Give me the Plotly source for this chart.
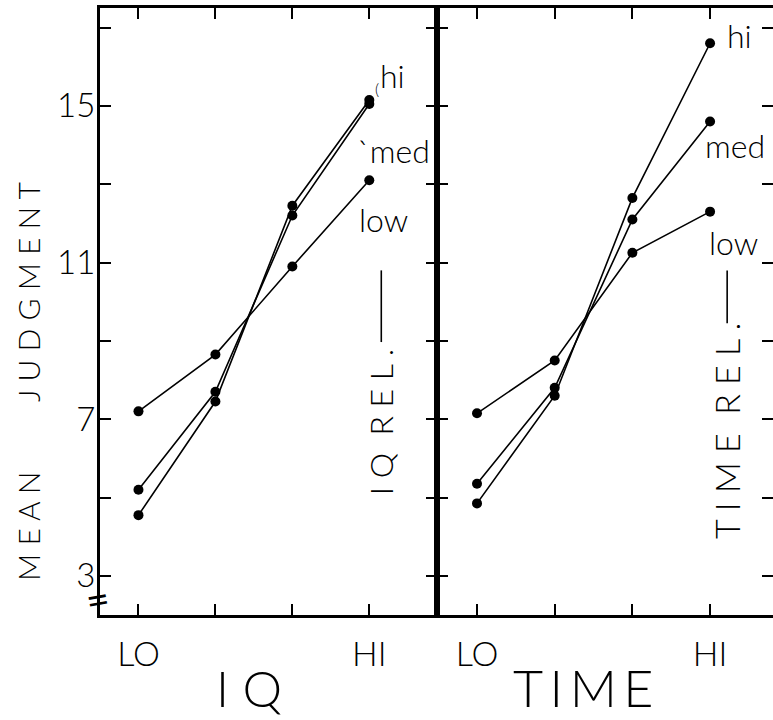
import plotly.graph_objects as go

# ---- data ----
levels = [1, 2, 3, 4]
x_tick_text = ["LO", "", "", "HI"]
y_ticks = [3, 5, 7, 9, 11, 13, 15, 17]
y_tick_text = ["3", "", "7", "", "11", "", "15", ""]

iq_hi = [4.55, 7.45, 12.45, 15.15]
iq_med = [5.2, 7.7, 12.2, 15.05]
iq_low = [7.2, 8.65, 10.9, 13.1]

time_hi = [4.85, 7.6, 12.65, 16.6]
time_med = [5.35, 7.8, 12.1, 14.6]
time_low = [7.15, 8.5, 11.25, 12.3]

FONT = "Lato"
BLACK = "black"

fig = go.Figure()

def add_series(xa, ya, vals):
    fig.add_trace(go.Scatter(
        x=levels, y=vals, xaxis=xa, yaxis=ya, mode="lines+markers",
        line=dict(color=BLACK, width=1.6),
        marker=dict(color=BLACK, size=10),
        showlegend=False, hoverinfo="skip"))

for v in (iq_hi, iq_med, iq_low):
    add_series("x", "y", v)
for v in (time_hi, time_med, time_low):
    add_series("x2", "y2", v)

W, H = 773, 720
ml, mr, mt, mb = 100, 0, 8, 105
PW, PH = W - ml - mr, H - mt - mb
split = 337 / PW

common_x = dict(
    tickvals=levels, ticktext=x_tick_text, ticks="inside", ticklen=11,
    tickwidth=2, tickcolor=BLACK, showline=True, linewidth=3, linecolor=BLACK,
    mirror="ticks", showgrid=False, zeroline=False, automargin=False,
    tickfont=dict(family=FONT, size=34, color=BLACK, weight=300), ticklabelstandoff=7,
)
common_y = dict(
    tickvals=y_ticks, ticktext=y_tick_text, ticks="inside", ticklen=11,
    tickwidth=2, tickcolor=BLACK, showline=True, linewidth=3, linecolor=BLACK,
    mirror="ticks", showgrid=False, zeroline=False, range=[2.0, 17.5],
    automargin=False,
)

fig.update_layout(
    width=W, height=H,
    margin=dict(l=ml, r=mr, t=mt, b=mb, autoexpand=False),
    paper_bgcolor="white", plot_bgcolor="white",
    xaxis=dict(domain=[0, split], range=[0.5, 4.88], anchor="y", **common_x),
    xaxis2=dict(domain=[split, 1], range=[0.485, 4.81], anchor="y2", **common_x),
    yaxis=dict(domain=[0, 1], anchor="x",
               tickfont=dict(family=FONT, size=33, color=BLACK, weight=300),
               ticklabelstandoff=-5, **common_y),
    yaxis2=dict(domain=[0, 1], anchor="x2", showticklabels=False, **common_y),
)

ann = []
def txt(text, x, y, xref, yref, size, angle=0, xanchor="center", yanchor="middle", weight=300):
    ann.append(dict(text=text, x=x, y=y, xref=xref, yref=yref, showarrow=False,
                    textangle=angle, xanchor=xanchor, yanchor=yanchor,
                    font=dict(family=FONT, size=size, color=BLACK, weight=weight)))

def px_x(px):
    return (px - ml) / PW

def px_y(py):
    return (H - mb - py) / PH

# y-axis title
txt("M E A N", px_x(28), px_y(527), "paper", "paper", 30, -90)
txt("J U D G M E N T", px_x(28), px_y(292), "paper", "paper", 30, -90)
# x-axis titles
txt("I Q", px_x(249), px_y(720), "paper", "paper", 50, yanchor="bottom")
txt("T\u2009I\u2009M\u2009E", px_x(583), px_y(720), "paper", "paper", 52, yanchor="bottom")

# series labels
txt("hi", 4.30, 15.77, "x", "y", 32)
txt("(", 4.10, 15.45, "x", "y", 16)
txt("`med", 3.82, 13.85, "x", "y", 32, xanchor="left")
txt("low", 3.84, 12.1, "x", "y", 32, xanchor="left")
txt("hi", 4.19, 16.8, "x2", "y2", 32, xanchor="left")
txt("med", 3.91, 14.0, "x2", "y2", 32, xanchor="left")
txt("low", 3.96, 11.5, "x2", "y2", 32, xanchor="left")

# relevance labels
txt("I Q  R E L .", 4.156, 6.93, "x", "y", 32, -90)
txt("T I M E  R E L .", 4.22, 6.70, "x2", "y2", 34, -90)

# axis break mark
txt("=", px_x(97), px_y(599), "paper", "paper", 40, -10, weight=400)

fig.update_layout(annotations=ann)

# dash lines after "REL."
fig.add_shape(type="line", xref="x", yref="y", x0=4.156, x1=4.156, y0=10.8, y1=8.97,
              line=dict(color=BLACK, width=1.6))
fig.add_shape(type="line", xref="x2", yref="y2", x0=4.22, x1=4.22, y0=10.8, y1=9.45,
              line=dict(color=BLACK, width=1.6))

fig.write_html("out.html", config={"displayModeBar": False},
               post_script="document.body.style.margin='0';document.body.style.overflow='hidden';")
